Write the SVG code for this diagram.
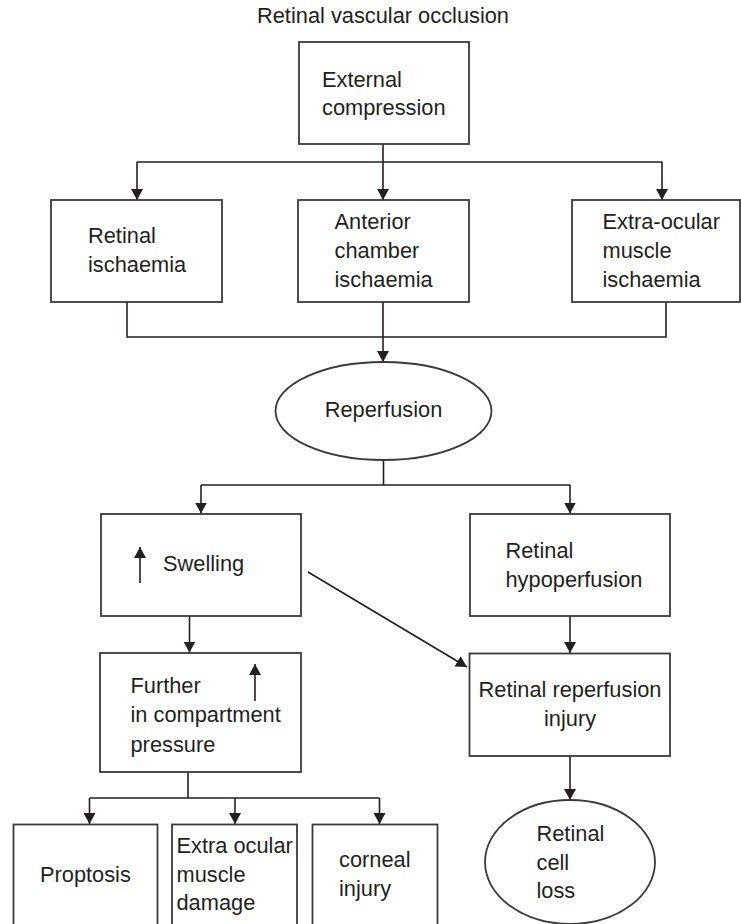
<svg xmlns="http://www.w3.org/2000/svg" width="741" height="924" viewBox="0 0 741 924">
<defs>
<style>
text{font-family:"Liberation Sans",Arial,Helvetica,sans-serif;font-size:21.8px;fill:#231f20}
.box{fill:#fff;stroke:#3a3a3a;stroke-width:1.8}
.ln{fill:none;stroke:#231f20;stroke-width:1.6}
.mid{text-anchor:middle}
</style>
<marker id="ah" viewBox="0 0 11 12" refX="11" refY="6" markerWidth="11" markerHeight="12" markerUnits="userSpaceOnUse" orient="auto">
<path d="M0,0 L11,6 L0,12 z" fill="#231f20"/>
</marker>
</defs>
<rect width="741" height="924" fill="#fff"/>
<g id="title"><text x="383" y="23" class="mid">Retinal vascular occlusion</text></g>
<g id="connectors">
<path class="ln" d="M137,162 H662"/>
<path class="ln" d="M137,162 V200" marker-end="url(#ah)"/>
<path class="ln" d="M383,144 V200" marker-end="url(#ah)"/>
<path class="ln" d="M662,162 V200" marker-end="url(#ah)"/>
<path class="ln" d="M127,302 V337 H666 V302"/>
<path class="ln" d="M383,302 V362" marker-end="url(#ah)"/>
<path class="ln" d="M383.5,460 V485"/>
<path class="ln" d="M201,485 H570"/>
<path class="ln" d="M201,485 V513.5" marker-end="url(#ah)"/>
<path class="ln" d="M570,485 V513.5" marker-end="url(#ah)"/>
<path class="ln" d="M189.5,616 V652.5" marker-end="url(#ah)"/>
<path class="ln" d="M570,616 V653" marker-end="url(#ah)"/>
<path class="ln" d="M308,572 L467,667" marker-end="url(#ah)"/>
<path class="ln" d="M570,756 V800" marker-end="url(#ah)"/>
<path class="ln" d="M188,772 V798"/>
<path class="ln" d="M89.5,798 H379.5"/>
<path class="ln" d="M89.5,798 V824" marker-end="url(#ah)"/>
<path class="ln" d="M235,798 V824" marker-end="url(#ah)"/>
<path class="ln" d="M379.5,798 V824" marker-end="url(#ah)"/>
</g>
<g id="external-compression">
<rect class="box" x="299" y="42" width="170" height="102"/>
<text x="322" y="87">External</text>
<text x="322" y="115">compression</text>
</g>
<g id="retinal-ischaemia">
<rect class="box" x="51" y="200" width="171" height="102"/>
<text x="88" y="243">Retinal</text>
<text x="88" y="272">ischaemia</text>
</g>
<g id="anterior-chamber-ischaemia">
<rect class="box" x="298" y="200" width="171" height="102"/>
<text x="334.5" y="229">Anterior</text>
<text x="334.5" y="258">chamber</text>
<text x="334.5" y="287">ischaemia</text>
</g>
<g id="extra-ocular-muscle-ischaemia">
<rect class="box" x="572" y="200" width="168" height="102"/>
<text x="602.5" y="229">Extra-ocular</text>
<text x="602.5" y="258">muscle</text>
<text x="602.5" y="287">ischaemia</text>
</g>
<g id="reperfusion">
<ellipse class="box" cx="383.5" cy="411" rx="108" ry="49"/>
<text x="383.5" y="417" class="mid">Reperfusion</text>
</g>
<g id="swelling">
<rect class="box" x="101" y="514" width="200" height="102"/>
<path class="ln" d="M140,583 V547" marker-end="url(#ah)"/>
<text x="163" y="571">Swelling</text>
</g>
<g id="retinal-hypoperfusion">
<rect class="box" x="470" y="514" width="200" height="102"/>
<text x="505.5" y="558">Retinal</text>
<text x="505.5" y="587">hypoperfusion</text>
</g>
<g id="further-pressure">
<rect class="box" x="100" y="653" width="201" height="119"/>
<path class="ln" d="M255,701 V664" marker-end="url(#ah)"/>
<text x="130.5" y="693">Further</text>
<text x="130.5" y="722">in compartment</text>
<text x="130.5" y="751.5">pressure</text>
</g>
<g id="retinal-reperfusion-injury">
<rect class="box" x="469.5" y="653.5" width="200.5" height="102.5"/>
<text x="570" y="697" class="mid">Retinal reperfusion</text>
<text x="570" y="726" class="mid">injury</text>
</g>
<g id="retinal-cell-loss">
<ellipse class="box" cx="570" cy="862" rx="85" ry="62"/>
<text x="536.5" y="841">Retinal</text>
<text x="536.5" y="870">cell</text>
<text x="536.5" y="898">loss</text>
</g>
<g id="proptosis">
<rect class="box" x="13.5" y="824.5" width="144" height="110"/>
<text x="40" y="882">Proptosis</text>
</g>
<g id="extra-ocular-muscle-damage">
<rect class="box" x="172" y="824.5" width="125" height="110"/>
<text x="176.5" y="853">Extra ocular</text>
<text x="176.5" y="882">muscle</text>
<text x="176.5" y="910">damage</text>
</g>
<g id="corneal-injury">
<rect class="box" x="312.5" y="824.5" width="125" height="110"/>
<text x="339" y="867">corneal</text>
<text x="339" y="896">injury</text>
</g>
</svg>
